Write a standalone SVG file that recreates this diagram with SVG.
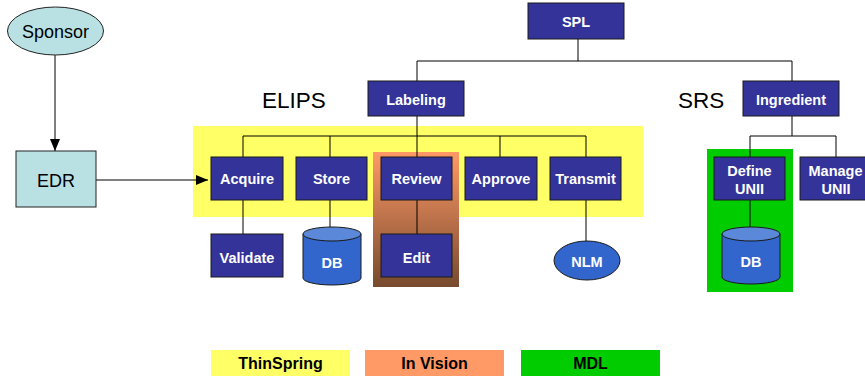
<svg xmlns="http://www.w3.org/2000/svg" width="865" height="378" viewBox="0 0 865 378">
<defs>
<style>
.box{fill:#333399;stroke:#1a1a1a;stroke-width:1}
.bt{font-family:"Liberation Sans",Arial,sans-serif;font-weight:bold;font-size:14.5px;fill:#fff;text-anchor:middle}
.big{font-family:"Liberation Sans",Arial,sans-serif;font-size:22.5px;fill:#000}
.lt{font-family:"Liberation Sans",Arial,sans-serif;font-weight:bold;font-size:16px;fill:#000;text-anchor:middle}
.nt{font-family:"Liberation Sans",Arial,sans-serif;font-size:18px;fill:#000;text-anchor:middle}
.ln{stroke:#000;stroke-width:1;fill:none}
.cyl{fill:#3366cc;stroke:#1a1a1a;stroke-width:1}
.cylt{fill:#5b88d8;stroke:#1a1a1a;stroke-width:1}
</style>
<marker id="ah" markerWidth="12" markerHeight="10" refX="12" refY="5" orient="auto" markerUnits="userSpaceOnUse">
<path d="M0,0 L12,5 L0,10 Z" fill="#000"/>
</marker>
<linearGradient id="og" x1="0" y1="0" x2="0" y2="1">
<stop offset="0" stop-color="#ff9966"/>
<stop offset="1" stop-color="#774a2e"/>
</linearGradient>
</defs>
<rect x="0" y="0" width="865" height="378" fill="#fff"/>

<!-- vendor regions -->
<rect x="193" y="126" width="450" height="91" fill="#ffff66"/>
<rect x="373" y="152" width="86" height="135" fill="url(#og)"/>
<rect x="707" y="149" width="86" height="143" fill="#00cc00"/>

<text class="big" x="262" y="108">ELIPS</text>
<text class="big" x="678" y="108">SRS</text>

<g id="connectors">
<line class="ln" x1="55" y1="55" x2="55" y2="151" marker-end="url(#ah)" stroke="#555"/>
<line class="ln" x1="96" y1="180" x2="208" y2="180" marker-end="url(#ah)"/>
<path class="ln" d="M578,39 V61 M417,61 H792 M417,61 V81 M792,61 V81"/>
<path class="ln" d="M417,116 V157 M243,136 H586 M243,136 V157 M330,136 V157 M500,136 V157 M586,136 V157"/>
<path class="ln" d="M243,200 V234 M330,200 V227 M417,200 V234 M586,200 V241"/>
<path class="ln" d="M792,116 V136 M750,136 H836 M750,136 V157 M836,136 V157 M750,200 V227"/>
</g>

<g id="sponsor"><ellipse cx="55.5" cy="31" rx="48" ry="24" fill="#b9e1e4" stroke="#222"/><text class="nt" x="55.5" y="38">Sponsor</text></g>
<g id="edr"><rect x="16" y="151" width="80" height="56" fill="#b9e1e4" stroke="#222"/><text class="nt" x="56" y="187">EDR</text></g>

<g id="spl"><rect class="box" x="528" y="3" width="96" height="36"/><text class="bt" x="576" y="27">SPL</text></g>
<g id="labeling"><rect class="box" x="368" y="81" width="96" height="35"/><text class="bt" x="416" y="105">Labeling</text></g>
<g id="ingredient"><rect class="box" x="743" y="81" width="96" height="35"/><text class="bt" x="791" y="105">Ingredient</text></g>

<g id="acquire"><rect class="box" x="211" y="157" width="72" height="43"/><text class="bt" x="247" y="184">Acquire</text></g>
<g id="store"><rect class="box" x="296" y="157" width="71" height="43"/><text class="bt" x="331.5" y="184">Store</text></g>
<g id="review"><rect class="box" x="381" y="157" width="71" height="43"/><text class="bt" x="416.5" y="184">Review</text></g>
<g id="approve"><rect class="box" x="465" y="157" width="72" height="43"/><text class="bt" x="501" y="184">Approve</text></g>
<g id="transmit"><rect class="box" x="550" y="157" width="71" height="43"/><text class="bt" x="585.5" y="184">Transmit</text></g>

<g id="validate"><rect class="box" x="211" y="234" width="72" height="43"/><text class="bt" x="247" y="263">Validate</text></g>
<g id="db1"><path class="cyl" d="M303,234 V278 A29,7 0 0 0 361,278 V234 Z"/><ellipse class="cylt" cx="332" cy="234" rx="29" ry="7"/><text class="bt" x="332" y="268">DB</text></g>
<g id="edit"><rect class="box" x="381" y="234" width="71" height="43"/><text class="bt" x="416.5" y="263">Edit</text></g>
<g id="nlm"><ellipse cx="587" cy="260.5" rx="33" ry="19.5" fill="#3366cc" stroke="#1a1a1a"/><text class="bt" x="587" y="267">NLM</text></g>

<g id="define"><rect class="box" x="714" y="157" width="71" height="43"/><text class="bt" x="749.5" y="176">Define</text><text class="bt" x="749.5" y="194">UNII</text></g>
<g id="manage"><rect class="box" x="800" y="157" width="74" height="43"/><text class="bt" x="835.5" y="176">Manage</text><text class="bt" x="836" y="194">UNII</text></g>
<g id="db2"><path class="cyl" d="M722,234 V277 A29,7 0 0 0 780,277 V234 Z"/><ellipse class="cylt" cx="751" cy="234" rx="29" ry="7"/><text class="bt" x="751" y="267">DB</text></g>

<g id="legend">
<rect x="211" y="350" width="139" height="26" fill="#ffff66"/><text class="lt" x="280.5" y="369">ThinSpring</text>
<rect x="365" y="350" width="139" height="26" fill="#ff9966"/><text class="lt" x="434.5" y="369">In Vision</text>
<rect x="521" y="350" width="139" height="26" fill="#00cc00"/><text class="lt" x="590.5" y="369">MDL</text>
</g>
</svg>
